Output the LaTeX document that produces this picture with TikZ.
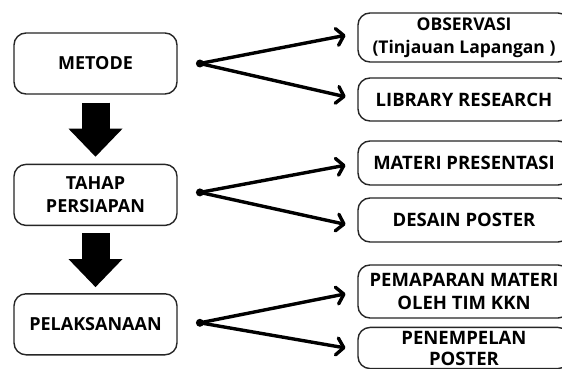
\documentclass[tikz,border=0pt]{standalone}
\usepackage{fontspec}
\setmainfont{Open Sans}
\usetikzlibrary{arrows.meta, positioning}
\tikzstyle{stagebox} = [rectangle, rounded corners=12pt, draw=black!85, line width=1.4pt, minimum width=163pt, minimum height=61pt, align=center, font=\fontsize{18}{23}\selectfont\bfseries]
\tikzstyle{stepbox} = [rectangle, rounded corners=12pt, draw=black!85, line width=1.4pt, minimum width=212pt, align=center, font=\fontsize{18.5}{23}\selectfont\bfseries]
\tikzstyle{hub} = [circle, fill=black, minimum size=8pt, inner sep=0pt]
\tikzstyle{link} = [line width=3.4pt, line cap=round, -{Straight Barb[length=7pt, width=17pt, line cap=round, line join=round]}, shorten >=12pt]
\tikzstyle{bigarrow} = [line width=28pt, -{Triangle[length=28pt, width=54pt, line width=0pt]}]

\begin{document}
\begin{tikzpicture}[x=1pt, y=-1pt, node distance=69pt]
\useasboundingbox (0,0) rectangle (562,369);
\clip (0,0) rectangle (562,369);
\fill[white] (0,0) rectangle (562,369);
% left column
\node (met) [stagebox] at (95.5,63.5) {METODE};
\node (tah) [stagebox, below=69pt of met] {TAHAP\\PERSIAPAN};
\node (pel) [stagebox, below=67pt of tah] {PELAKSANAAN};
\draw [bigarrow, shorten <=8pt, shorten >=7pt] (met) -- (tah);
\draw [bigarrow, shorten <=7pt, shorten >=6pt] (tah) -- (pel);
% hubs
\node (d1) [hub, right=18pt of met] {};
\node (d2) [hub, right=18pt of tah, yshift=2.5pt] {};
\node (d3) [hub, right=18pt of pel, yshift=1.5pt] {};
% right column
\node (obs) [stepbox, minimum height=49pt, font=\fontsize{17.5}{23}\selectfont\bfseries] at (464,37.5) {OBSERVASI\\(Tinjauan Lapangan )};
\node (lib) [stepbox, minimum height=43pt] at (464,99.5) {LIBRARY RESEARCH};
\node (mat) [stepbox, minimum height=44pt] at (464,163) {MATERI PRESENTASI};
\node (des) [stepbox, minimum height=44pt] at (464,220) {DESAIN POSTER};
\node (pem) [stepbox, minimum height=53pt] at (464,291.5) {PEMAPARAN MATERI\\OLEH TIM KKN};
\node (pen) [stepbox, minimum height=40pt, font=\fontsize{18.5}{21}\selectfont\bfseries] at (464,348) {PENEMPELAN\\POSTER};
\draw [link] (d1.center) -- ([yshift=4.5pt]obs.west);
\draw [link] (d1.center) -- (lib.west);
\draw [link] (d2.center) -- (mat.west);
\draw [link] (d2.center) -- ([yshift=-7pt]des.west);
\draw [link] (d3.center) -- (pem.west);
\draw [link] (d3.center) -- ([yshift=-2pt]pen.west);
\end{tikzpicture}
\end{document}
